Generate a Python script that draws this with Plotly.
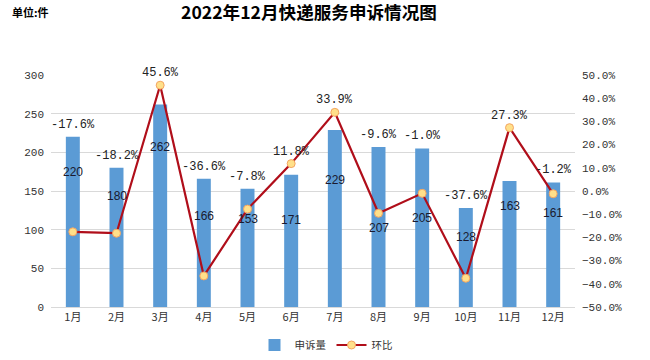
import plotly.graph_objects as go

months = ["1月", "2月", "3月", "4月", "5月", "6月", "7月", "8月", "9月", "10月", "11月", "12月"]
complaints = [220, 180, 262, 166, 153, 171, 229, 207, 205, 128, 163, 161]
mom_pct = [-17.6, -18.2, 45.6, -36.6, -7.8, 11.8, 33.9, -9.6, -1.0, -37.6, 27.3, -1.2]
count_label_y = [174, 144, 207, 118, 114, 113, 164, 102, 115, 90, 130, 122]

W, H = 650, 360
L, R, T, B = 51, 75, 75, 53
PW, PH = W - L - R, H - T - B


def px_to_paper_x(px):
    return (px - L) / PW


def px_to_paper_y(py):
    return (H - B - py) / PH


fig = go.Figure()
fig.add_trace(go.Bar(
    x=months, y=complaints, name="申诉量",
    marker=dict(color="#5B9BD5", line=dict(width=0)),
    width=0.32, yaxis="y",
))
fig.add_trace(go.Scatter(
    x=months, y=mom_pct, name="环比", yaxis="y2", mode="lines+markers",
    line=dict(color="#B00E1A", width=2.2),
    marker=dict(size=8, color="#FFE08A", line=dict(color="#F4A460", width=1)),
))

annotations = []
for m, v, ly in zip(months, complaints, count_label_y):
    annotations.append(dict(x=m, y=ly, xref="x", yref="y", text=str(v), showarrow=False,
                            font=dict(family="Liberation Sans, Arial", size=12, color="#1a1a2e")))
for m, v, p in zip(months, complaints, mom_pct):
    top = max(v, (p + 50) * 3)
    annotations.append(dict(x=m, y=top, xref="x", yref="y", text=f"{p:.1f}%", showarrow=False,
                            yshift=12,
                            font=dict(family="Liberation Mono, Noto Sans CJK SC", size=12, color="#222")))
annotations.append(dict(x=px_to_paper_x(10), y=px_to_paper_y(12), xref="paper", yref="paper",
                        text="<b>单位:件</b>", showarrow=False, xanchor="left", yanchor="middle",
                        font=dict(family="Noto Sans CJK SC", size=11, color="#000")))

fig.update_layout(
    width=W, height=H,
    margin=dict(l=L, r=R, t=T, b=B, autoexpand=False),
    paper_bgcolor="white", plot_bgcolor="white",
    title=dict(text="<b>2022年12月快递服务申诉情况图</b>", x=309 / W, xref="container", xanchor="center",
               y=1 - 13 / H, yref="container", yanchor="middle",
               font=dict(family="Noto Sans CJK SC", size=17.6, color="#000")),
    font=dict(family="Liberation Mono, Noto Sans CJK SC", size=11, color="#333"),
    showlegend=True,
    legend=dict(orientation="h", x=326 / W, xanchor="center", y=15 / H, yanchor="middle",
                xref="container", yref="container",
                font=dict(family="Noto Sans CJK SC", size=10.5, color="#333"), itemwidth=30),
    xaxis=dict(showgrid=False, showline=True, linecolor="#D9D9D9", linewidth=1, ticks="",
               automargin=False, range=[-0.5, len(months) - 0.5],
               tickfont=dict(family="Noto Sans CJK SC", size=11, color="#333")),
    yaxis=dict(range=[0, 300], dtick=50, showgrid=True, gridcolor="#D9D9D9", zeroline=False,
               showline=False, ticks="", ticklabelstandoff=6, automargin=False,
               tickfont=dict(family="Liberation Mono", size=11, color="#333")),
    yaxis2=dict(range=[-50, 50], dtick=10, overlaying="y", side="right", showgrid=False,
                zeroline=False, showline=False, tickformat=".1f", ticksuffix="%",
                ticklabelstandoff=6, automargin=False,
                tickfont=dict(family="Liberation Mono", size=11, color="#333")),
    annotations=annotations,
)

fig.write_html("out.html", config={"displayModeBar": False},
               post_script="document.body.style.margin='0';document.body.style.overflow='hidden';")
